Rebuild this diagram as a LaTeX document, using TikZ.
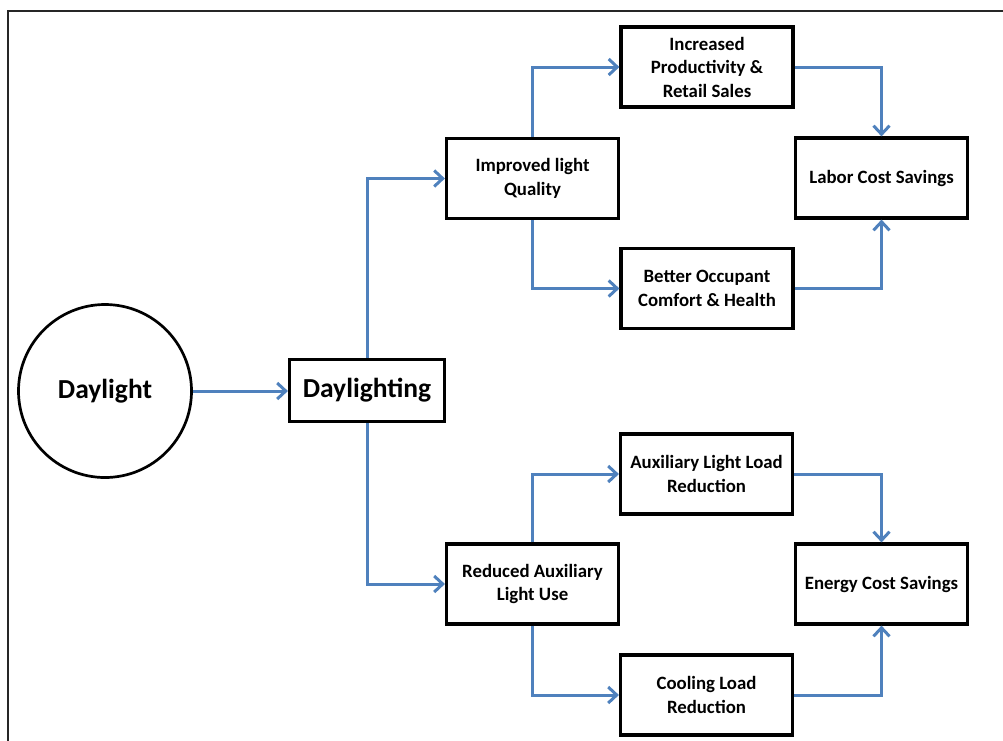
\documentclass[tikz,border=0pt]{standalone}
\usepackage{fontspec}
\setmainfont{Carlito}
\usetikzlibrary{arrows.meta}
\definecolor{arrowblue}{HTML}{4F81BD}
\tikzset{
  box/.style={draw=black, line width=3.2pt, minimum width=172pt, minimum height=80pt,
    align=center, inner sep=1pt, font=\fontsize{18.8}{23.5}\selectfont\bfseries},
  bigbox/.style={draw=black, line width=3.2pt, minimum width=155pt, minimum height=62pt,
    align=center, inner sep=1pt, font=\fontsize{27.5}{30}\selectfont\bfseries},
  circ/.style={draw=black, circle, line width=2.7pt, minimum size=173pt, inner sep=0pt,
    font=\fontsize{27.5}{30}\selectfont\bfseries},
  conn/.style={draw=arrowblue, line width=3pt,
    -{Straight Barb[length=8.5pt, width=16pt, line width=3pt]}},
  frameline/.style={draw=black!85, line width=2pt}
}
\begin{document}
\begin{tikzpicture}[x=1pt, y=-1pt]
\useasboundingbox (0,0) rectangle (1003,740);
\draw[frameline] (7.5,742) -- (7.5,11) -- (1005,11);

\node[circ] (day) at (105,391) {Daylight};
\node[bigbox] (dl) at (367,390.5) {Daylighting};

\node[box] (imp) at (532.5,178.5) {Improved light\\Quality};
\node[box] (inc) at (707,67) {Increased\\Productivity \&\\Retail Sales};
\node[box] (lab) at (881.5,178) {Labor Cost Savings};
\node[box] (bet) at (707,288.5) {Better Occupant\\Comfort \& Health};

\node[box] (red) at (532.5,584) {Reduced Auxiliary\\Light Use};
\node[box] (aux) at (706.5,474) {Auxiliary Light Load\\Reduction};
\node[box] (ene) at (881.5,584) {Energy Cost Savings};
\node[box] (coo) at (706.5,695) {Cooling Load\\Reduction};

\draw[conn] (day.east) -- (day.east -| dl.west);
\draw[conn] (dl.north) |- (imp.west);
\draw[conn] (dl.south) |- (red.west);
\draw[conn] (imp.north) |- (inc.west);
\draw[conn] (imp.south) |- (bet.west);
\draw[conn] (inc.east) -| (lab.north);
\draw[conn] (bet.east) -| (lab.south);
\draw[conn] (red.north) |- (aux.west);
\draw[conn] (red.south) |- (coo.west);
\draw[conn] (aux.east) -| (ene.north);
\draw[conn] (coo.east) -| (ene.south);
\end{tikzpicture}
\end{document}
